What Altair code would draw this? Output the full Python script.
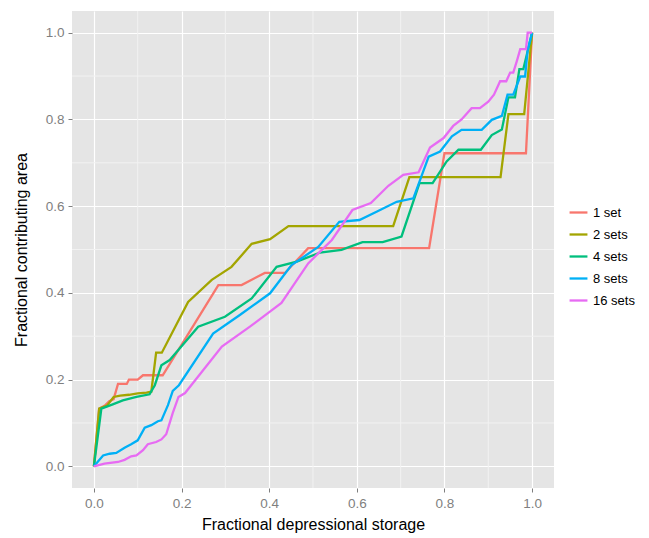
import altair as alt
import pandas as pd

series_names = ["1 set", "2 sets", "4 sets", "8 sets", "16 sets"]
colors = ["#F8766D", "#A3A500", "#00BF7D", "#00B0F6", "#E76BF3"]

x_1 = [0, 0.012, 0.025, 0.035, 0.045, 0.055, 0.075, 0.08, 0.1, 0.112, 0.157, 0.284, 0.337, 0.39, 0.436, 0.489, 0.765, 0.80, 0.986, 1.0]
y_1 = [0, 0.133, 0.14, 0.15, 0.155, 0.19, 0.19, 0.2, 0.2, 0.21, 0.21, 0.418, 0.418, 0.446, 0.446, 0.503, 0.503, 0.722, 0.722, 1.0]

x_2 = [0, 0.012, 0.03, 0.045, 0.06, 0.08, 0.10, 0.12, 0.131, 0.142, 0.155, 0.215, 0.269, 0.314, 0.36, 0.402, 0.444, 0.683, 0.72, 0.928, 0.946, 0.982, 1.0]
y_2 = [0, 0.133, 0.14, 0.16, 0.163, 0.165, 0.168, 0.17, 0.172, 0.262, 0.262, 0.379, 0.43, 0.46, 0.513, 0.524, 0.554, 0.554, 0.667, 0.667, 0.812, 0.812, 1.0]

x_4 = [0, 0.017, 0.043, 0.066, 0.097, 0.127, 0.139, 0.154, 0.173, 0.238, 0.299, 0.36, 0.417, 0.463, 0.516, 0.565, 0.613, 0.659, 0.702, 0.743, 0.773, 0.805, 0.832, 0.883, 0.908, 0.931, 0.946, 0.961, 0.971, 0.98, 1.0]
y_4 = [0, 0.133, 0.143, 0.152, 0.16, 0.166, 0.187, 0.233, 0.245, 0.322, 0.345, 0.387, 0.46, 0.472, 0.493, 0.499, 0.517, 0.517, 0.53, 0.653, 0.653, 0.703, 0.73, 0.73, 0.764, 0.777, 0.851, 0.851, 0.916, 0.916, 1.0]

x_8 = [0, 0.021, 0.036, 0.051, 0.07, 0.085, 0.1, 0.116, 0.131, 0.146, 0.154, 0.169, 0.18, 0.194, 0.272, 0.333, 0.402, 0.451, 0.512, 0.56, 0.606, 0.645, 0.691, 0.729, 0.764, 0.79, 0.817, 0.839, 0.885, 0.908, 0.931, 0.944, 0.957, 0.973, 0.984, 0.99, 1.0]
y_8 = [0, 0.025, 0.029, 0.031, 0.043, 0.051, 0.06, 0.089, 0.095, 0.104, 0.106, 0.141, 0.174, 0.187, 0.306, 0.349, 0.399, 0.464, 0.506, 0.564, 0.568, 0.587, 0.61, 0.618, 0.714, 0.726, 0.761, 0.776, 0.776, 0.799, 0.808, 0.857, 0.857, 0.899, 0.899, 0.961, 1.0]

x_16 = [0, 0.024, 0.055, 0.07, 0.085, 0.097, 0.112, 0.123, 0.142, 0.154, 0.165, 0.18, 0.193, 0.208, 0.292, 0.356, 0.428, 0.489, 0.516, 0.543, 0.59, 0.632, 0.672, 0.706, 0.741, 0.767, 0.798, 0.82, 0.839, 0.862, 0.881, 0.9, 0.913, 0.927, 0.941, 0.95, 0.957, 0.965, 0.973, 0.986, 0.99, 1.0]
y_16 = [0, 0.006, 0.01, 0.015, 0.023, 0.025, 0.037, 0.051, 0.056, 0.062, 0.074, 0.123, 0.16, 0.169, 0.276, 0.322, 0.377, 0.468, 0.495, 0.522, 0.591, 0.607, 0.647, 0.672, 0.678, 0.735, 0.757, 0.785, 0.8, 0.826, 0.826, 0.841, 0.857, 0.888, 0.888, 0.908, 0.908, 0.934, 0.962, 0.962, 1.0, 1.0]

major_ticks = [0.0, 0.2, 0.4, 0.6, 0.8, 1.0]
minor_ticks = [0.1, 0.3, 0.5, 0.7, 0.9]

rows = []
for name, xs, ys in zip(series_names, [x_1, x_2, x_4, x_8, x_16], [y_1, y_2, y_4, y_8, y_16]):
    for i, (a, b) in enumerate(zip(xs, ys)):
        rows.append({"series": name, "x": a, "y": b, "i": i})
df = pd.DataFrame(rows)
minor_x_df = pd.DataFrame({"x": minor_ticks})
minor_y_df = pd.DataFrame({"y": minor_ticks})

FONT = "Liberation Sans"
xscale = alt.Scale(domain=[-0.05, 1.05], nice=False, zero=False)
yscale = alt.Scale(domain=[-0.05, 1.05], nice=False, zero=False)

x_axis = alt.Axis(title="Fractional depressional storage", values=major_ticks, format=".1f",
                  grid=True, gridColor="white", gridWidth=1.2,
                  labelColor="#7F7F7F", labelFontSize=13.5, labelFont=FONT, labelPadding=4,
                  tickColor="#7F7F7F", tickSize=4, domain=False,
                  titleFont=FONT, titleFontSize=16, titleFontWeight="normal", titleColor="black",
                  titlePadding=7)
y_axis = alt.Axis(title="Fractional contributing area", values=major_ticks, format=".1f",
                  grid=True, gridColor="white", gridWidth=1.2,
                  labelColor="#7F7F7F", labelFontSize=13.5, labelFont=FONT, labelPadding=4,
                  tickColor="#7F7F7F", tickSize=4, domain=False,
                  titleFont=FONT, titleFontSize=16, titleFontWeight="normal", titleColor="black",
                  titlePadding=16)

minor_x = alt.Chart(minor_x_df).mark_rule(color="#F2F2F2", strokeWidth=1).encode(
    x=alt.X("x:Q", scale=xscale, axis=x_axis))
minor_y = alt.Chart(minor_y_df).mark_rule(color="#F2F2F2", strokeWidth=1).encode(
    y=alt.Y("y:Q", scale=yscale, axis=y_axis))

lines = alt.Chart(df).mark_line(strokeWidth=2.3).encode(
    x=alt.X("x:Q", scale=xscale, axis=x_axis),
    y=alt.Y("y:Q", scale=yscale, axis=y_axis),
    color=alt.Color("series:N", sort=series_names,
                    scale=alt.Scale(domain=series_names, range=colors),
                    legend=alt.Legend(title=None, orient="none", legendX=496, legendY=191,
                                      symbolType="stroke", symbolStrokeWidth=2.3, symbolSize=320,
                                      labelFont=FONT, labelFontSize=13, labelColor="black",
                                      rowPadding=4)),
    order="i:Q",
    detail="series:N",
)

chart = alt.layer(minor_x, minor_y, lines).properties(
    width=482, height=477,
    autosize=alt.AutoSizeParams(type="none"),
    padding={"left": 72, "top": 11, "right": 95, "bottom": 50},
    background="white",
).configure_view(fill="#E5E5E5", stroke=None)

chart.save("out.html", embed_options={"renderer": "svg", "actions": False})
